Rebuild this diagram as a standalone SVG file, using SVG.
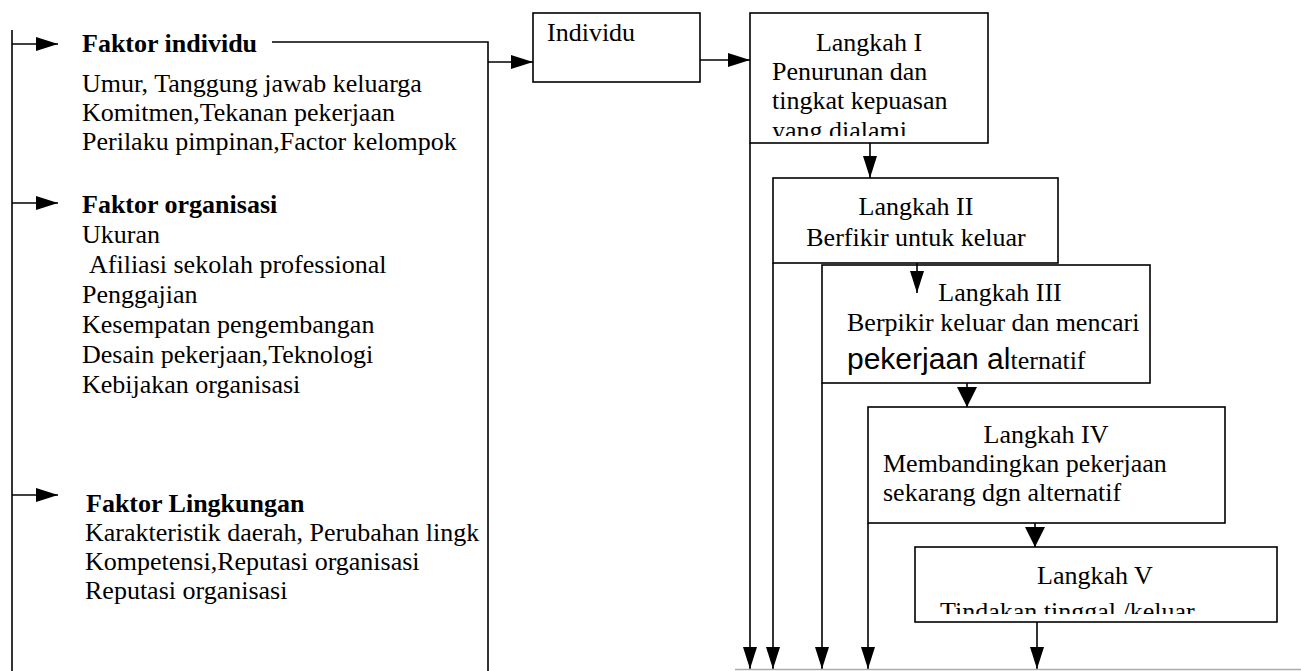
<svg xmlns="http://www.w3.org/2000/svg" width="1301" height="671" viewBox="0 0 1301 671">
<style>
text{font-family:"Liberation Serif","Times New Roman",serif;font-size:26px;fill:#000}
.b{font-weight:bold}
.c{text-anchor:middle}
.box{fill:none;stroke:#000;stroke-width:1.6}
.ln{fill:none;stroke:#000;stroke-width:1.6}
.a{marker-end:url(#ah)}
.ab{marker-end:url(#ahb)}
</style>
<defs>
<marker id="ah" viewBox="0 0 22 14" refX="22" refY="7" markerWidth="22" markerHeight="14" markerUnits="userSpaceOnUse" orient="auto"><path d="M0,0L22,7L0,14z" fill="#000"/></marker>
<marker id="ahb" viewBox="0 0 20 20" refX="20" refY="10" markerWidth="20" markerHeight="20" markerUnits="userSpaceOnUse" orient="auto"><path d="M0,0L20,10L0,20z" fill="#000"/></marker>
<clipPath id="c1"><rect x="750" y="0" width="240" height="136"/></clipPath>
<clipPath id="c5"><rect x="915" y="540" width="362" height="74"/></clipPath>
</defs>
<g id="factors">
<text x="82" y="52" class="b">Faktor individu</text>
<text x="82" y="92">Umur, Tanggung jawab keluarga</text>
<text x="82" y="121">Komitmen,Tekanan pekerjaan</text>
<text x="82" y="150">Perilaku pimpinan,Factor kelompok</text>
<text x="82" y="213" class="b">Faktor organisasi</text>
<text x="82" y="243">Ukuran</text>
<text x="89" y="273">Afiliasi sekolah professional</text>
<text x="82" y="303">Penggajian</text>
<text x="82" y="333">Kesempatan pengembangan</text>
<text x="82" y="363">Desain pekerjaan,Teknologi</text>
<text x="82" y="393">Kebijakan organisasi</text>
<text x="86" y="512" class="b">Faktor Lingkungan</text>
<text x="85" y="541">Karakteristik daerah, Perubahan lingk</text>
<text x="85" y="570">Kompetensi,Reputasi organisasi</text>
<text x="85" y="599">Reputasi organisasi</text>
</g>
<g id="individu">
<rect class="box" x="533" y="13" width="167" height="69"/>
<text x="547" y="41">Individu</text>
</g>
<g id="langkah1">
<rect class="box" x="750" y="13" width="238" height="130"/>
<text x="869" y="51" class="c">Langkah I</text>
<text x="772" y="80">Penurunan dan</text>
<text x="772" y="109">tingkat kepuasan</text>
<text x="772" y="139" clip-path="url(#c1)">yang dialami</text>
</g>
<g id="langkah2">
<rect class="box" x="773" y="178" width="285" height="85"/>
<text x="916" y="215" class="c">Langkah II</text>
<text x="916" y="246" class="c">Berfikir untuk keluar</text>
</g>
<g id="langkah3">
<rect class="box" x="822" y="265" width="328" height="118"/>
<text x="1000" y="301" class="c">Langkah III</text>
<text x="847" y="331">Berpikir keluar dan mencari</text>
<text x="847" y="369"><tspan style="font-family:'Liberation Sans',Arial,sans-serif;font-size:30px">pekerjaan al</tspan>ternatif</text>
</g>
<g id="langkah4">
<rect class="box" x="868" y="407" width="357" height="116"/>
<text x="1046" y="443" class="c">Langkah IV</text>
<text x="883" y="472">Membandingkan pekerjaan</text>
<text x="883" y="501">sekarang dgn alternatif</text>
</g>
<g id="langkah5">
<rect class="box" x="915" y="547" width="362" height="75"/>
<text x="1095" y="584" class="c">Langkah V</text>
<text x="940" y="620" clip-path="url(#c5)">Tindakan tinggal /keluar</text>
</g>
<g id="connectors">
<path class="ln" d="M12,30V671"/>
<path class="ln a" d="M12,44H58"/>
<path class="ln a" d="M12,203H58"/>
<path class="ln a" d="M12,495H58"/>
<path class="ln" d="M272,42H488V671"/>
<path class="ln a" d="M488,62H533"/>
<path class="ln a" d="M700,60H750"/>
<path class="ln a" d="M870,143V178"/>
<path class="ln a" d="M917,263V293"/>
<path class="ln ab" d="M967,383V407"/>
<path class="ln ab" d="M1035,523V547"/>
<path class="ln a" d="M1037,622V669"/>
<path class="ln a" d="M750,143V669"/>
<path class="ln a" d="M773,263V669"/>
<path class="ln a" d="M822,383V669"/>
<path class="ln a" d="M868,523V669"/>
<path d="M735,669.5H1301" stroke="#aaa" stroke-width="1.5" fill="none"/>
</g>
</svg>
